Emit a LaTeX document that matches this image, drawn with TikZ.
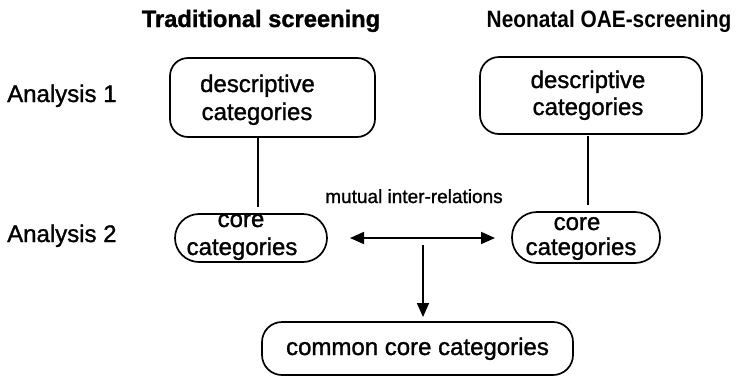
\documentclass[tikz,border=0pt]{standalone}
\usepackage{fontspec}
\setmainfont{Liberation Sans}[FakeBold=1.2]
\newfontfamily\hdnarrow[FakeStretch=0.88]{Liberation Sans}
\usetikzlibrary{arrows.meta}
\begin{document}
\begin{tikzpicture}[x=1pt,y=-1pt,
  boxshape/.style={draw, line width=1.7pt, inner sep=0pt, outer sep=0pt},
  txt/.style={inner sep=0pt, anchor=base, font=\fontsize{24}{28}\selectfont},
  hdr/.style={inner sep=0pt, anchor=base, font=\bfseries\fontsize{23.7}{28}\selectfont},
  small/.style={inner sep=0pt, anchor=base, font=\fontsize{19}{22}\selectfont},
  conn/.style={line width=1.7pt},
  arr/.style={line width=1.7pt, -{Triangle[length=14pt,width=12pt]}},
  darr/.style={line width=1.7pt, {Triangle[length=14pt,width=12pt]}-{Triangle[length=14pt,width=12pt]}}
]
\useasboundingbox (0,0) rectangle (738,378);

% headers
\node[hdr] (h1) at (261,27) {Traditional screening};
\node[hdr] (h2) at (609,27) {\hdnarrow Neonatal OAE-screening};
\node[txt, anchor=base west] (a1) at (7,102) {Analysis 1};
\node[txt, anchor=base west] (a2) at (7,242) {Analysis 2};

% boxes
\node[boxshape, rounded corners=18pt, minimum width=205pt, minimum height=79pt] (box1) at (272.5,97.5) {};
\node[boxshape, rounded corners=19pt, minimum width=222pt, minimum height=77pt] (box2) at (591,95.5) {};
\node[boxshape, rounded corners=24pt, minimum width=152pt, minimum height=48pt] (core1) at (251,238) {};
\node[boxshape, rounded corners=25pt, minimum width=148pt, minimum height=51pt] (core2) at (586,237.5) {};
\node[boxshape, rounded corners=20pt, minimum width=311pt, minimum height=53pt] (common) at (417.5,348.5) {};

% texts in boxes
\node[txt] (b1l1) at (257.5,92) {descriptive};
\node[txt] (b1l2) at (257,120) {categories};
\node[txt] (b2l1) at (588,88) {descriptive};
\node[txt] (b2l2) at (588,115) {categories};
\node[txt] (c1l1) at (241,227) {core};
\node[txt] (c1l2) at (242,255) {categories};
\node[txt] (c2l1) at (577,230) {core};
\node[txt] (c2l2) at (581,255) {categories};
\node[txt] (cml) at (417.5,355) {common core categories};
\node[small] (mut) at (414,203) {mutual inter-relations};

% connectors
\draw[conn, shorten >=7pt] ([xshift=-14.5pt]box1.south) -- ([xshift=-14.5pt]box1.south |- core1.north);
\draw[conn, shorten <=2pt, shorten >=7pt] ([xshift=-3pt]box2.south) -- ([xshift=-3pt]box2.south |- core2.north);
\draw[darr, shorten <=23pt, shorten >=17pt] (core1.east) -- (core1.east -| core2.west);
\coordinate (vtop) at (423,245);
\draw[arr, shorten >=5pt] (vtop) -- (vtop |- common.north);
\end{tikzpicture}
\end{document}
